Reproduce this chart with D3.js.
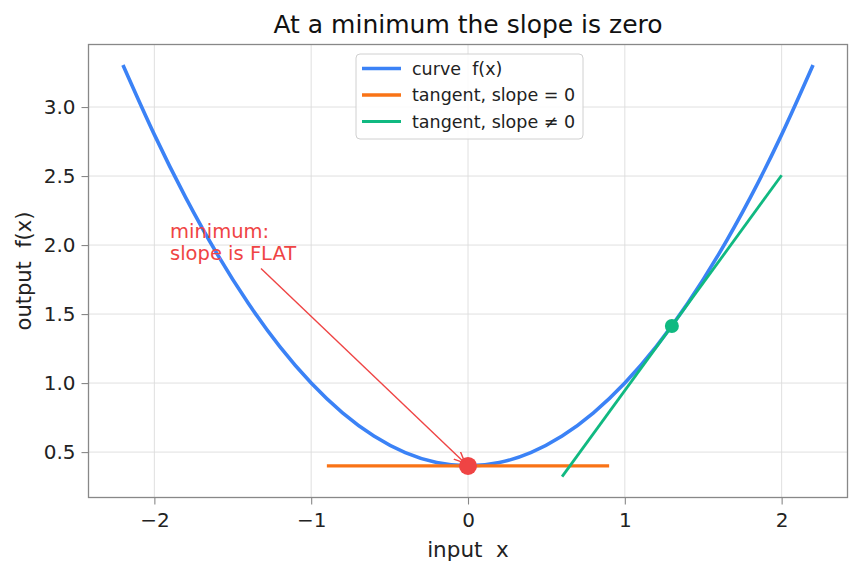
<!DOCTYPE html>
<html>
<head>
<meta charset="utf-8">
<script src="https://cdn.jsdelivr.net/npm/d3@7"></script>
<style>
  body { margin: 0; background: #fff; }
  text { font-family: "DejaVu Sans", sans-serif; white-space: pre; }
</style>
</head>
<body>
<div id="container"></div>
<script>
/* DATA */
const curveX = [-2.2, -2.0, -1.8, -1.6, -1.4, -1.2, -1.0, -0.8, -0.6, -0.4, -0.2, 0, 0.2, 0.4, 0.6, 0.8, 1.0, 1.2, 1.4, 1.6, 1.8, 2.0, 2.2];
const curveY = [3.304, 2.800, 2.344, 1.936, 1.576, 1.264, 1.000, 0.784, 0.616, 0.496, 0.424, 0.400, 0.424, 0.496, 0.616, 0.784, 1.000, 1.264, 1.576, 1.936, 2.344, 2.800, 3.304];
const flatX = [-0.9, 0.9];
const flatY = [0.40, 0.40];
const slopeX = [0.6, 2.0];
const slopeY = [0.322, 2.506];
const minPoint = [0, 0.40];
const slopePoint = [1.3, 1.414];
const xTicks = [-2, -1, 0, 1, 2];
const yTicks = [0.5, 1.0, 1.5, 2.0, 2.5, 3.0];
const legendLabels = ["curve  f(x)", "tangent, slope = 0", "tangent, slope \u2260 0"];
const colors = ["#3b82f6", "#f97316", "#10b981"];
const red = "#ef4444";

/* CONSTANTS */
const width = 862, height = 573;
const mLeft = 88.5, mRight = 847.5, mTop = 44.5, mBottom = 497.5;

const svg = d3.select("#container").append("svg")
  .attr("width", width).attr("height", height);

svg.append("defs").append("marker")
  .attr("id", "head")
  .attr("viewBox", "0 0 10 10")
  .attr("refX", 10).attr("refY", 5)
  .attr("markerWidth", 11).attr("markerHeight", 11)
  .attr("markerUnits", "userSpaceOnUse")
  .attr("orient", "auto")
  .append("path")
  .attr("d", "M0,0.5 L10,5 L0,9.5")
  .attr("fill", "none")
  .attr("stroke", red)
  .attr("stroke-width", 1.3);

/* SCALES */
const xScale = d3.scaleLinear().domain([-2.42, 2.42]).range([mLeft, mRight]);
const yScale = d3.scaleLinear().domain([0.171, 3.453]).range([mBottom, mTop]);

/* GRID */
svg.append("g").selectAll("line").data(xTicks).join("line")
  .attr("x1", d => xScale(d)).attr("x2", d => xScale(d))
  .attr("y1", mTop).attr("y2", mBottom)
  .attr("stroke", "#dcdcdc").attr("stroke-width", 0.9);
svg.append("g").selectAll("line").data(yTicks).join("line")
  .attr("y1", d => yScale(d)).attr("y2", d => yScale(d))
  .attr("x1", mLeft).attr("x2", mRight)
  .attr("stroke", "#dcdcdc").attr("stroke-width", 0.9);

/* AXES */
const xAxis = svg.append("g")
  .attr("transform", `translate(0,${mBottom})`)
  .call(d3.axisBottom(xScale).tickValues(xTicks).tickFormat(d3.format("d")).tickSizeOuter(0).tickSize(7).tickPadding(8));
const yAxis = svg.append("g")
  .attr("transform", `translate(${mLeft},0)`)
  .call(d3.axisLeft(yScale).tickValues(yTicks).tickFormat(d3.format(".1f")).tickSizeOuter(0).tickSize(7).tickPadding(6));
[xAxis, yAxis].forEach(g => {
  g.select(".domain").remove();
  g.selectAll(".tick line").attr("stroke", "#888").attr("stroke-width", 1.1);
  g.selectAll(".tick text").attr("fill", "#222").style("font-size", "20px");
});

svg.append("rect")
  .attr("x", mLeft).attr("y", mTop)
  .attr("width", mRight - mLeft).attr("height", mBottom - mTop)
  .attr("fill", "none").attr("stroke", "#888").attr("stroke-width", 1.3);

/* LINES */
const smooth = d3.line().curve(d3.curveNatural).x(d => xScale(d[0])).y(d => yScale(d[1]));
const straight = d3.line().x(d => xScale(d[0])).y(d => yScale(d[1]));

svg.append("path")
  .datum(d3.zip(curveX, curveY))
  .attr("d", smooth)
  .attr("fill", "none").attr("stroke", colors[0]).attr("stroke-width", 3.6);

svg.append("path")
  .datum(d3.zip(flatX, flatY))
  .attr("d", straight)
  .attr("fill", "none").attr("stroke", colors[1]).attr("stroke-width", 3.2);

svg.append("path")
  .datum(d3.zip(slopeX, slopeY))
  .attr("d", straight)
  .attr("fill", "none").attr("stroke", colors[2]).attr("stroke-width", 2.8);

/* POINTS */
svg.append("circle")
  .attr("cx", xScale(minPoint[0])).attr("cy", yScale(minPoint[1]))
  .attr("r", 9).attr("fill", red);
svg.append("circle")
  .attr("cx", xScale(slopePoint[0])).attr("cy", yScale(slopePoint[1]))
  .attr("r", 7).attr("fill", colors[2]);

/* ANNOTATION */
const arrowFrom = [-1.32, 1.83];
const ax0 = xScale(arrowFrom[0]), ay0 = yScale(arrowFrom[1]);
const ax1 = xScale(minPoint[0]), ay1 = yScale(minPoint[1]);
const len = Math.hypot(ax1 - ax0, ay1 - ay0);
const shrink = 4;
svg.append("line")
  .attr("x1", ax0).attr("y1", ay0)
  .attr("x2", ax1 - (ax1 - ax0) / len * shrink)
  .attr("y2", ay1 - (ay1 - ay0) / len * shrink)
  .attr("stroke", red).attr("stroke-width", 1.4)
  .attr("marker-end", "url(#head)");

const note = svg.append("text")
  .attr("x", xScale(-1.9)).attr("y", 238)
  .attr("fill", red).style("font-size", "19.5px");
note.append("tspan").attr("x", xScale(-1.9)).text("minimum:");
note.append("tspan").attr("x", xScale(-1.9)).attr("dy", 21.5).text("slope is FLAT");

/* LEGEND */
const legend = svg.append("g").attr("transform", "translate(356,54)");
legend.append("rect")
  .attr("width", 227).attr("height", 85).attr("rx", 4)
  .attr("fill", "#fff").attr("fill-opacity", 0.85)
  .attr("stroke", "#d0d0d0").attr("stroke-width", 1);
legendLabels.forEach((lab, i) => {
  const y = 14.5 + i * 26.5;
  legend.append("line")
    .attr("x1", 6).attr("x2", 45).attr("y1", y).attr("y2", y)
    .attr("stroke", colors[i]).attr("stroke-width", i === 2 ? 2.8 : 3.4);
  legend.append("text")
    .attr("x", 56).attr("y", y + 6)
    .attr("fill", "#222").style("font-size", "17.5px")
    .text(lab);
});

/* TITLES */
svg.append("text")
  .attr("x", (mLeft + mRight) / 2).attr("y", 33)
  .attr("text-anchor", "middle").attr("fill", "#111")
  .style("font-size", "25px")
  .text("At a minimum the slope is zero");
svg.append("text")
  .attr("x", (mLeft + mRight) / 2).attr("y", 557)
  .attr("text-anchor", "middle").attr("fill", "#222")
  .style("font-size", "21.5px")
  .text("input  x");
svg.append("text")
  .attr("transform", `translate(31,${(mTop + mBottom) / 2}) rotate(-90)`)
  .attr("text-anchor", "middle").attr("fill", "#222")
  .style("font-size", "21px")
  .text("output  f(x)");
</script>
</body>
</html>
